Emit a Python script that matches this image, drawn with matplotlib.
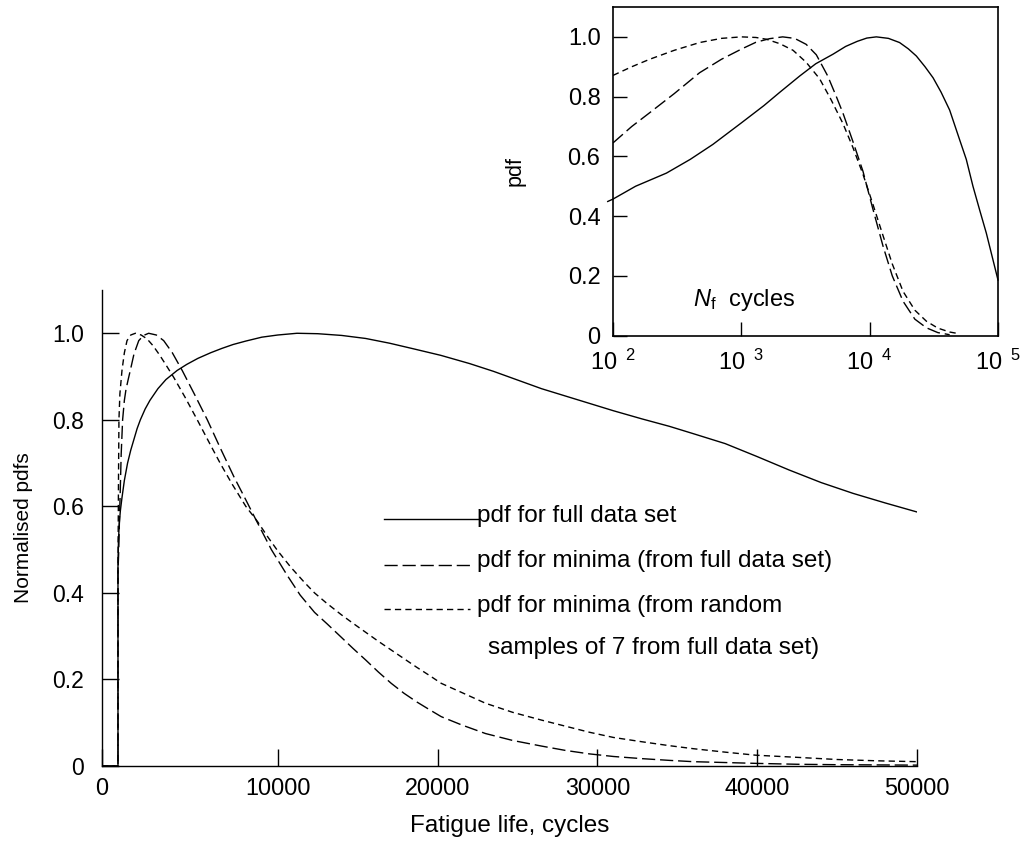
#Normalised pdfs of fatigue life, with a log-scale inset

import matplotlib
matplotlib.use('Agg')
import matplotlib.pyplot as plt

plt.rcParams['font.family'] = ['Liberation Sans', 'DejaVu Sans']
plt.rcParams['mathtext.fontset'] = 'custom'
plt.rcParams['mathtext.rm'] = 'Liberation Sans'
plt.rcParams['mathtext.it'] = 'Liberation Sans:italic'
plt.rcParams['lines.scale_dashes'] = False

#main plot data (cycles, normalised pdf)
full_N = [-1000, 0, 0, 30, 80, 150, 250, 400, 600, 800, 1000, 1200, 1400, 1700, 2000, 2500,
          3000, 3700, 4300, 5000, 5800, 6500, 7200, 8000, 9000, 10000, 11200, 12500, 14000,
          15500, 17000, 18500, 20200, 22000, 23500, 25000, 26500, 28000, 29500, 31000, 32800,
          34500, 36000, 38000, 40000, 42000, 44000, 46000, 48000, 50000]
full_pdf = [0, 0, 0.46, 0.52, 0.56, 0.59, 0.62, 0.66, 0.70, 0.73, 0.755, 0.78, 0.80, 0.825, 0.845, 0.872,
            0.893, 0.914, 0.928, 0.942, 0.955, 0.965, 0.974, 0.982, 0.991, 0.996, 1.0, 0.999, 0.995,
            0.988, 0.977, 0.964, 0.949, 0.93, 0.912, 0.892, 0.872, 0.855, 0.838, 0.821, 0.802,
            0.785, 0.768, 0.745, 0.715, 0.684, 0.655, 0.63, 0.608, 0.587]

minfull_N = [-1000, 0, 0, 40, 100, 145, 200, 290, 400, 500, 650, 770, 1000, 1300, 1600, 1920,
             2400, 2860, 3400, 4020, 4800, 5590, 6400, 7260, 8000, 8730, 9600, 10600, 11400,
             12300, 13100, 13960, 14700, 15500, 16300, 17100, 17900, 18700, 19500, 20230,
             21500, 23000, 24700, 26510, 28000, 29500, 31000, 32790, 34500, 36000, 38000,
             40000, 42500, 45000, 50000]
minfull_pdf = [0, 0, 0.45, 0.49, 0.58, 0.64, 0.72, 0.80, 0.845, 0.87, 0.895, 0.914, 0.952, 0.983, 0.995, 1.0,
               0.996, 0.983, 0.955, 0.914, 0.858, 0.80, 0.735, 0.668, 0.615, 0.562, 0.50, 0.44, 0.395,
               0.355, 0.328, 0.298, 0.272, 0.245, 0.217, 0.191, 0.168, 0.148, 0.13, 0.114,
               0.095, 0.075, 0.059, 0.046, 0.036, 0.028, 0.022, 0.017, 0.013, 0.010, 0.008,
               0.006, 0.004, 0.003, 0.002]

minrand_N = [-1000, 0, 0, 15, 30, 60, 120, 250, 400, 565, 800, 1090, 1450, 1820, 2200, 2600,
             3000, 3490, 4200, 4960, 5700, 6420, 7150, 8000, 8730, 9400, 10000, 10800, 11650,
             12300, 13000, 13960, 14700, 15500, 16300, 17100, 17900, 18700, 19500, 20230,
             21500, 23000, 24700, 26510, 28000, 29500, 31000, 32790, 34500, 36000, 38000,
             39900, 42500, 45000, 47500, 50000]
minrand_pdf = [0, 0, 0.45, 0.55, 0.65, 0.80, 0.86, 0.914, 0.955, 0.983, 0.996, 1.0, 0.996, 0.987, 0.971, 0.95,
               0.927, 0.898, 0.852, 0.80, 0.748, 0.698, 0.651, 0.60, 0.565, 0.528, 0.497, 0.46, 0.425,
               0.40, 0.378, 0.35, 0.33, 0.309, 0.288, 0.268, 0.248, 0.228, 0.209, 0.191,
               0.17, 0.145, 0.124, 0.106, 0.092, 0.078, 0.066, 0.056, 0.047, 0.040, 0.032,
               0.025, 0.02, 0.015, 0.012, 0.010]

#inset data (log scale)
in_full_N = [91, 100, 150, 261, 400, 600, 1000, 1500, 2000, 2850, 3800, 5180, 6500, 8000, 9500,
             11270, 14000, 17100, 20000, 23100, 27000, 31200, 36000, 42000, 50200, 56600, 63800,
             72000, 81100, 90000, 100000]
in_full_pdf = [0.449, 0.457, 0.50, 0.544, 0.59, 0.64, 0.712, 0.77, 0.815, 0.869, 0.91, 0.942, 0.968, 0.985, 0.996,
               1.0, 0.995, 0.981, 0.96, 0.936, 0.90, 0.863, 0.815, 0.755, 0.656, 0.59, 0.5,
               0.42, 0.343, 0.265, 0.186]

in_minfull_N = [100, 140, 193, 300, 473, 700, 1000, 1300, 1660, 2100, 2600, 3200, 3840, 4700, 5500,
                6190, 7400, 8870, 10500, 12700, 15000, 18200, 22500, 27700, 34000, 42000]
in_minfull_pdf = [0.645, 0.70, 0.746, 0.81, 0.88, 0.925, 0.959, 0.982, 0.994, 1.0, 0.995, 0.975, 0.94, 0.87, 0.80,
                  0.745, 0.65, 0.55, 0.43, 0.30, 0.20, 0.115, 0.055, 0.026, 0.01, 0.003]

in_minrand_N = [100, 140, 193, 300, 473, 700, 1000, 1300, 1570, 2000, 2530, 3200, 4070, 5000, 6190,
                7400, 8870, 10500, 12700, 15000, 18200, 22500, 27700, 34000, 42000, 50200]
in_minrand_pdf = [0.871, 0.90, 0.925, 0.955, 0.981, 0.995, 1.0, 0.998, 0.992, 0.977, 0.955, 0.915, 0.86, 0.79, 0.71,
                  0.63, 0.54, 0.445, 0.335, 0.24, 0.148, 0.085, 0.048, 0.025, 0.012, 0.006]

x_ticks = [-1000, 10000, 20000, 30000, 40000, 50000]
x_ticklabels = ['0', '10000', '20000', '30000', '40000', '50000']
y_ticks = [0, 0.2, 0.4, 0.6, 0.8, 1.0]
y_ticklabels = ['0', '0.2', '0.4', '0.6', '0.8', '1.0']
legend_labels = ['pdf for full data set', 'pdf for minima (from full data set)',
                 'pdf for minima (from random', 'samples of 7 from full data set)']

long_dash = (9.5, 3.5)
short_dash = (4.5, 3.0)

fig = plt.figure(figsize=(10.3, 8.42), dpi=100)

#######################################################################main plot
ax = fig.add_axes([102/1030, 76/842, 815/1030, 476/842])
ax.plot(full_N, full_pdf, color='black', lw=1.0)
ax.plot(minfull_N, minfull_pdf, color='black', lw=1.0, dashes=long_dash)
ax.plot(minrand_N, minrand_pdf, color='black', lw=1.0, dashes=short_dash)

ax.set_xlim(-1000, 50000)
ax.set_ylim(0, 1.1)
ax.spines['top'].set_visible(False)
ax.spines['right'].set_visible(False)
for s in ['left', 'bottom']:
    ax.spines[s].set_linewidth(1.0)
ax.set_xticks(x_ticks)
ax.set_xticklabels(x_ticklabels)
ax.set_yticks(y_ticks)
ax.set_yticklabels(y_ticklabels)
ax.tick_params(axis='x', direction='in', length=12, width=1.0, pad=8, labelsize=16.8)
ax.tick_params(axis='y', direction='in', length=12, width=1.0, pad=13, labelsize=16.5)
ax.set_xlabel('Fatigue life, cycles', fontsize=17.5, labelpad=11)
ax.set_ylabel('Normalised pdfs', fontsize=15, labelpad=14)

#hand-made legend
hx0, hx1 = 0.346, 0.4515
ax.plot([hx0, 0.461], [0.518, 0.518], transform=ax.transAxes, color='black', lw=1.0)
ax.plot([hx0, hx1], [0.4223, 0.4223], transform=ax.transAxes, color='black', lw=1.0, dashes=long_dash)
ax.plot([hx0, hx1], [0.329, 0.329], transform=ax.transAxes, color='black', lw=1.0, dashes=short_dash)
for lab, yy, xx in zip(legend_labels, [0.518, 0.4223, 0.329, 0.240], [0.4607, 0.4607, 0.4607, 0.4736]):
    ax.text(xx, yy + 0.008, lab, transform=ax.transAxes, fontsize=17.5, va='center', ha='left')

#######################################################################inset
ax2 = fig.add_axes([613/1030, (842-335.6)/842, 385/1030, 328.6/842])
ax2.plot(in_full_N, in_full_pdf, color='black', lw=1.0, clip_on=False)
ax2.plot(in_minfull_N, in_minfull_pdf, color='black', lw=1.0, dashes=long_dash)
ax2.plot(in_minrand_N, in_minrand_pdf, color='black', lw=1.0, dashes=short_dash)
ax2.set_xscale('log')
ax2.set_xlim(100, 100000)
ax2.set_ylim(0, 1.1)
for s in ax2.spines.values():
    s.set_linewidth(1.2)
ax2.set_xticks([100, 1000, 10000, 100000])
ax2.set_xticklabels([r'$10^{\ \ 2}$', r'$10^{\ \ 3}$', r'$10^{\ \ 4}$', r'$10^{\ \ 5}$'])
ax2.xaxis.set_minor_locator(matplotlib.ticker.NullLocator())
ax2.set_yticks(y_ticks)
ax2.set_yticklabels(y_ticklabels)
ax2.tick_params(axis='x', direction='in', length=10, width=1.0, pad=10, labelsize=17)
ax2.tick_params(axis='y', direction='in', length=10, width=1.0, pad=9, labelsize=17)
ax2.set_ylabel('pdf', fontsize=15.5, labelpad=30)
ax2.text(0.208, 0.108, r'$\mathit{N}_{\mathrm{f}}$  cycles', transform=ax2.transAxes,
         fontsize=17, va='center', ha='left')

plt.savefig('out.png', dpi=100)
